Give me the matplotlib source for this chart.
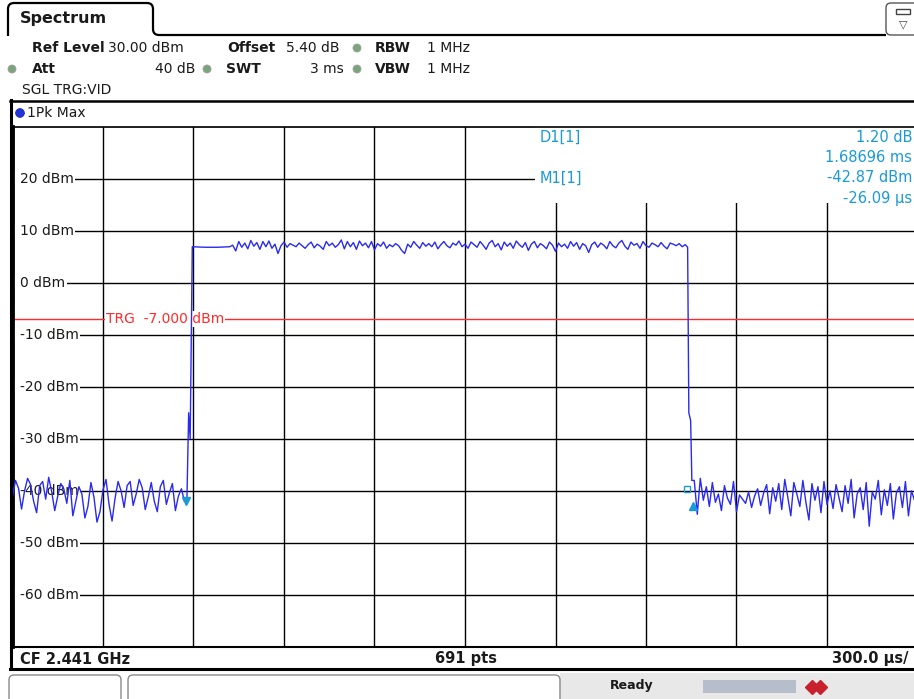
import matplotlib
matplotlib.use('Agg')
import matplotlib.pyplot as plt
import numpy as np
from matplotlib.patches import FancyBboxPatch, Rectangle, Circle, PathPatch
from matplotlib.path import Path

# ---------------- data (time in microseconds, level in dBm) ----------------
sweep_time_us = 3000
div_us = 300
ref_level = 30
y_bottom = -70
trigger_level = -7.0

ytick_values = [20, 10, 0, -10, -20, -30, -40, -50, -60]

pre_start, pre_step = 0, 10
pre_noise = [-41.0, -38.0, -39.5, -43.5, -40.0, -37.6, -38.8, -42.0, -44.2, -39.0,
             -38.2, -41.6, -37.4, -40.2, -43.8, -41.0, -38.6, -39.6, -42.4, -38.0,
             -44.8, -42.0, -39.2, -40.6, -45.2, -43.0, -38.4, -41.2, -46.0, -44.0,
             -39.8, -37.8, -42.6, -45.8, -41.4, -38.2, -40.0, -43.2, -39.0, -38.2,
             -42.8, -40.6, -37.8, -39.4, -43.6, -41.2, -38.4, -42.0, -44.0, -39.2,
             -38.0, -42.6, -40.4, -38.6, -43.8, -41.0, -39.6, -42.0]

rise_t = [578, 584, 589, 596, 640, 680, 720]
rise_v = [-42.2, -25.0, -30.0, 6.9, 6.8, 6.8, 6.9]

burst_start, burst_step = 730, 10
burst = [7.2, 6.1, 7.9, 6.8, 7.6, 6.5, 8.1, 7.0, 7.7, 6.4,
         7.9, 6.9, 8.0, 6.6, 7.4, 5.6, 7.1, 7.8, 6.8, 7.5,
         7.2, 6.9, 7.6, 7.1, 6.6, 7.3, 7.8, 6.7, 7.4, 7.0,
         6.4, 7.9, 7.1, 7.6, 6.8, 7.3, 8.2, 6.5, 7.9, 6.9,
         7.7, 6.4, 8.0, 7.1, 7.6, 6.7, 7.9, 6.3, 7.5, 7.0,
         7.8, 6.6, 7.3, 6.9, 7.5, 7.1, 6.2, 5.6, 7.4, 6.8,
         7.9, 7.2, 6.6, 7.7, 7.0, 7.5, 6.9, 7.8, 6.5, 7.3,
         7.9, 7.1, 6.7, 7.6, 7.2, 8.0, 6.9, 7.4, 6.6, 7.8,
         7.3, 6.8, 7.9, 7.2, 6.4, 7.6, 8.1, 6.9, 7.5, 6.3,
         7.8, 7.0, 7.6, 6.6, 8.0, 7.3, 6.8, 7.7, 6.2, 7.4,
         7.9, 6.7, 7.5, 7.1, 6.5, 7.8, 7.2, 6.0, 7.6, 6.9,
         7.4, 6.6, 7.9, 7.0, 7.7, 6.4, 7.5, 7.1, 5.8, 7.3,
         7.8, 6.8, 7.6, 7.2, 6.5, 7.9, 7.1, 6.7, 7.6, 8.1,
         7.0, 6.4, 7.8, 7.2, 7.5, 6.6, 7.9, 7.1, 6.8, 7.6,
         7.3, 6.9, 7.7, 7.0, 6.5, 7.6, 7.4, 7.1, 7.5, 6.9, 7.3]

fall_t = [2238, 2242, 2248, 2252]
fall_v = [6.8, -25.0, -26.5, -38.0]

post_start, post_step = 2260, 10
post_noise = [-38.0, -44.5, -37.6, -41.8, -39.2, -43.0, -38.4, -42.2, -40.6, -43.8,
              -39.0, -41.4, -42.6, -38.2, -44.0, -40.8, -41.6, -42.4, -40.2, -43.2,
              -41.0, -39.6, -42.8, -40.4, -38.8, -44.4, -39.4, -42.0, -38.6, -43.6,
              -37.8, -41.2, -44.8, -38.4, -40.6, -43.0, -38.0, -42.2, -45.6, -38.6,
              -41.8, -39.2, -44.2, -38.2, -42.6, -40.0, -43.4, -38.8, -41.4, -44.0,
              -39.0, -42.4, -37.8, -45.2, -40.6, -39.4, -43.6, -38.4, -46.8, -40.2,
              -41.6, -38.0, -44.6, -39.8, -42.8, -38.6, -45.4, -40.4, -39.2, -43.2,
              -38.2, -44.8, -40.0, -41.8, -39.4]

m1_t, m1_v = 575, -42.0
d1_t, d1_v = 2257, -42.9
d1_ref_t, d1_ref_v = 2236, -39.7

marker_texts = [("D1[1]", "1.20 dB"), ("", "1.68696 ms"), ("M1[1]", "-42.87 dBm"), ("", "-26.09 µs")]

# ---------------- build trace ----------------
t_pre = pre_start + pre_step * np.arange(len(pre_noise))
t_burst = burst_start + burst_step * np.arange(len(burst))
t_post = post_start + post_step * np.arange(len(post_noise))
t_all = np.concatenate([t_pre, rise_t, t_burst, fall_t, t_post])
v_all = np.concatenate([pre_noise, rise_v, burst, fall_v, post_noise])

# ---------------- figure ----------------
W, H = 914, 699
fig = plt.figure(figsize=(W / 100, H / 100), dpi=100)
fig.patch.set_facecolor('white')

ov = fig.add_axes([0, 0, 1, 1])
ov.set_xlim(0, W)
ov.set_ylim(H, 0)
ov.axis('off')

FS = 10
TXT = '#1a1a1a'
CYAN = '#1a9ad6'

# tab
verts = [(8, 36), (8, 9), (8, 3), (14, 3), (147, 3), (153, 3), (153, 9), (153, 29), (153, 35), (159, 35), (886, 35)]
codes = [Path.MOVETO, Path.LINETO, Path.CURVE3, Path.CURVE3, Path.LINETO, Path.CURVE3, Path.CURVE3,
         Path.LINETO, Path.CURVE3, Path.CURVE3, Path.LINETO]
ov.add_patch(PathPatch(Path(verts, codes), fc='none', ec='black', lw=1.6))
ov.text(20, 19, "Spectrum", fontsize=11.5, fontweight='bold', va='center', ha='left', color=TXT)

# icon box top right
ov.add_patch(FancyBboxPatch((886, 3), 34, 32, boxstyle="round,pad=0,rounding_size=5",
                            fc='white', ec='#555555', lw=1))
ov.add_patch(Rectangle((896, 9), 14, 5, fc='none', ec='#444444', lw=1))
ov.text(903, 24, "▽", fontsize=8, ha='center', va='center', color='#444444')

# header rows
def hdr(x, y, s, bold=False, ha='left'):
    ov.text(x, y, s, fontsize=FS, fontweight='bold' if bold else 'normal', va='center', ha=ha, color=TXT)

hdr(32, 48, "Ref Level", True)
hdr(108, 48, "30.00 dBm")
hdr(227, 48, "Offset", True)
hdr(286, 48, "5.40 dB")
hdr(375, 48, "RBW", True)
hdr(427, 48, "1 MHz")
hdr(32, 69, "Att", True)
hdr(195, 69, "40 dB", ha='right')
hdr(226, 69, "SWT", True)
hdr(344, 69, "3 ms", ha='right')
hdr(375, 69, "VBW", True)
hdr(427, 69, "1 MHz")
hdr(22, 90, "SGL TRG:VID")

for (cx, cy) in [(357, 48), (12, 69), (207, 69), (357, 69)]:
    ov.add_patch(Circle((cx, cy), 4, fc='#7aa57a', ec='#a0a0a0', lw=0.6))

# panel frame
ov.plot([10, 914], [101, 101], color='black', lw=1.8)
ov.plot([10.5, 10.5], [100, 669], color='black', lw=2.2)
ov.plot([10, 914], [668.5, 668.5], color='black', lw=2.2)
ov.add_patch(Circle((20, 113), 4.4, fc='#2233dd', ec='#1122aa', lw=0.5))
hdr(27, 113, "1Pk Max")

# bottom info
ov.text(20, 659, "CF 2.441 GHz", fontsize=10.5, fontweight='bold', va='center', ha='left', color=TXT)
ov.text(466, 659, "691 pts", fontsize=10.5, fontweight='bold', va='center', ha='center', color=TXT)
ov.text(909, 659, "300.0 µs/", fontsize=10.5, fontweight='bold', va='center', ha='right', color=TXT)

# status bar
ov.add_patch(Rectangle((560, 673), 354, 26, fc='#e8e8e8', ec='none'))
ov.add_patch(FancyBboxPatch((9, 675), 112, 30, boxstyle="round,pad=0,rounding_size=5",
                            fc='white', ec='#888888', lw=1))
ov.add_patch(FancyBboxPatch((128, 675), 432, 30, boxstyle="round,pad=0,rounding_size=5",
                            fc='white', ec='#888888', lw=1))
ov.text(632, 686, "Ready", fontsize=9, fontweight='bold', va='center', ha='center', color=TXT)
ov.add_patch(Rectangle((703, 680), 93, 13, fc='#b6bdcb', ec='none'))
ov.plot([812, 820], [687, 687], marker='D', ms=7, ls='none', color='#c8202c')

# ---------------- main plot ----------------
top_px, bot_px = 126.5, 647
left_px, right_px = 12.5, 917.5
ax = fig.add_axes([left_px / W, 1 - bot_px / H, (right_px - left_px) / W, (bot_px - top_px) / H])
ax.set_xlim(0, sweep_time_us)
ax.set_ylim(y_bottom, ref_level)
ax.set_xticks(np.arange(0, sweep_time_us + 1, div_us))
ax.set_yticks(np.arange(y_bottom, ref_level + 1, 10))
ax.tick_params(length=0, labelleft=False, labelbottom=False)
ax.grid(True, color='black', lw=1.0)
ax.set_axisbelow(True)
ax.spines['right'].set_visible(False)
ax.spines['top'].set_linewidth(1.2)
ax.spines['bottom'].set_linewidth(1.5)
ax.spines['left'].set_linewidth(2.0)

# marker info area (covers grid)
ax.add_patch(Rectangle((0.577, (bot_px - 203) / (bot_px - top_px)), 0.5, 1, transform=ax.transAxes,
                       fc='white', ec='none', zorder=1))

# y labels
xl = (20 - left_px) / (right_px - left_px)
for v in ytick_values:
    ax.add_patch(Rectangle((0, v - 1.2), xl + 0.01, 2.4, transform=ax.get_yaxis_transform(),
                           fc='white', ec='none', zorder=1.3))
    ax.text(xl, v, f"{v} dBm", transform=ax.get_yaxis_transform(), fontsize=FS, va='center', ha='left',
            color=TXT, zorder=1.5, bbox=dict(fc='white', ec='none', pad=1.0))

# trigger line
ax.axhline(trigger_level, color='#ff2a2a', lw=1.0, zorder=1.2)
ax.text((106 - left_px) / (right_px - left_px), trigger_level, f"TRG  {trigger_level:.3f} dBm",
        transform=ax.get_yaxis_transform(), fontsize=FS, va='center', ha='left', color='#ff2a2a',
        zorder=1.5, bbox=dict(fc='white', ec='none', pad=0.5))

# trace
ax.plot(t_all, v_all, color='#2a2af0', lw=1.0, zorder=3, clip_on=True)

# markers
ax.plot([m1_t], [m1_v], marker='v', ms=6, color=CYAN, ls='none', zorder=4)
ax.plot([d1_t], [d1_v], marker='^', ms=6, color=CYAN, ls='none', zorder=4)
ax.plot([d1_ref_t], [d1_ref_v], marker='s', ms=4.5, mfc='none', mec=CYAN, ls='none', zorder=4)

# marker texts
def px2ax(x, y):
    return ((x - left_px) / (right_px - left_px), (bot_px - y) / (bot_px - top_px))

ys = [137, 157, 178, 198]
for (lab, val), y in zip(marker_texts, ys):
    if lab:
        ax.text(*px2ax(540, y), lab, transform=ax.transAxes, fontsize=10.5, va='center', ha='left',
                color=CYAN, zorder=5)
    ax.text(*px2ax(912, y), val, transform=ax.transAxes, fontsize=10.5, va='center', ha='right',
            color=CYAN, zorder=5, clip_on=False)

fig.savefig('out.png', dpi=100, facecolor='white')
